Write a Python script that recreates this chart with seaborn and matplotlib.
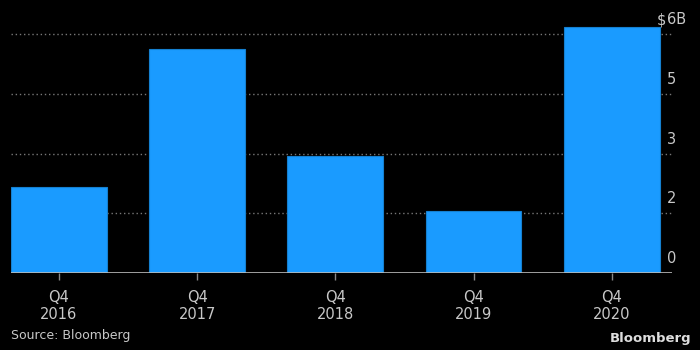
import matplotlib
matplotlib.use("Agg")
import matplotlib.pyplot as plt
import seaborn as sns
import pandas as pd

# data
quarters = ["Q4\n2016", "Q4\n2017", "Q4\n2018", "Q4\n2019", "Q4\n2020"]
values = [2.16, 5.63, 2.94, 1.56, 6.18]
y_ticks = [0, 1.5, 3, 4.5, 6]
y_labels = ["0", "2", "3", "5", "6B"]

bar_color = "#1a9bff"
text_color = "#c8c8c8"

sns.set_theme(style="dark")
plt.rcParams["font.family"] = ["Liberation Sans Narrow", "DejaVu Sans"]

df = pd.DataFrame({"quarter": quarters, "value": values})

fig = plt.figure(figsize=(7, 3.5), dpi=100, facecolor="black")
ax = fig.add_axes([0.0157, 0.22, 0.945, 0.717])
ax.set_facecolor("black")

# dotted gridlines first so bars sit on top
for t in y_ticks[1:]:
    ax.axhline(t, color="#777777", lw=1.0, ls=(0, (1, 2)), zorder=0)

sns.barplot(data=df, x="quarter", y="value", color=bar_color, saturation=1,
            width=0.694, edgecolor="#1580d0", linewidth=0.8, ax=ax, zorder=2)

ax.set_xlim(-0.347, 4.44)
ax.set_ylim(0, 6.3)
ax.axhline(0, color="#bbbbbb", lw=1.2, zorder=3)

for s in ax.spines.values():
    s.set_visible(False)
ax.set_yticks([])
ax.set_xlabel("")
ax.set_ylabel("")
ax.tick_params(axis="x", colors="#888888", length=5, width=1, pad=7,
               labelcolor=text_color, labelsize=10.5, bottom=True)

# y labels sit above their gridline on the right
for t, lab in zip(y_ticks, y_labels):
    ax.annotate(lab, xy=(4.44, t), xytext=(-4, 5), textcoords="offset points",
                ha="left", va="bottom", color=text_color, fontsize=10.5)
ax.annotate("$", xy=(4.44, y_ticks[-1]), xytext=(-4.5, 5), textcoords="offset points",
            ha="right", va="bottom", color=text_color, fontsize=10.5)

fig.text(0.016, 0.04, "Source: Bloomberg", color=text_color, fontsize=9,
         ha="left", va="center")
fig.text(0.988, 0.033, "Bloomberg", color="#dddddd", fontsize=9.5,
         fontweight="bold", ha="right", va="center")

fig.savefig("out.png", dpi=100, facecolor="black")
